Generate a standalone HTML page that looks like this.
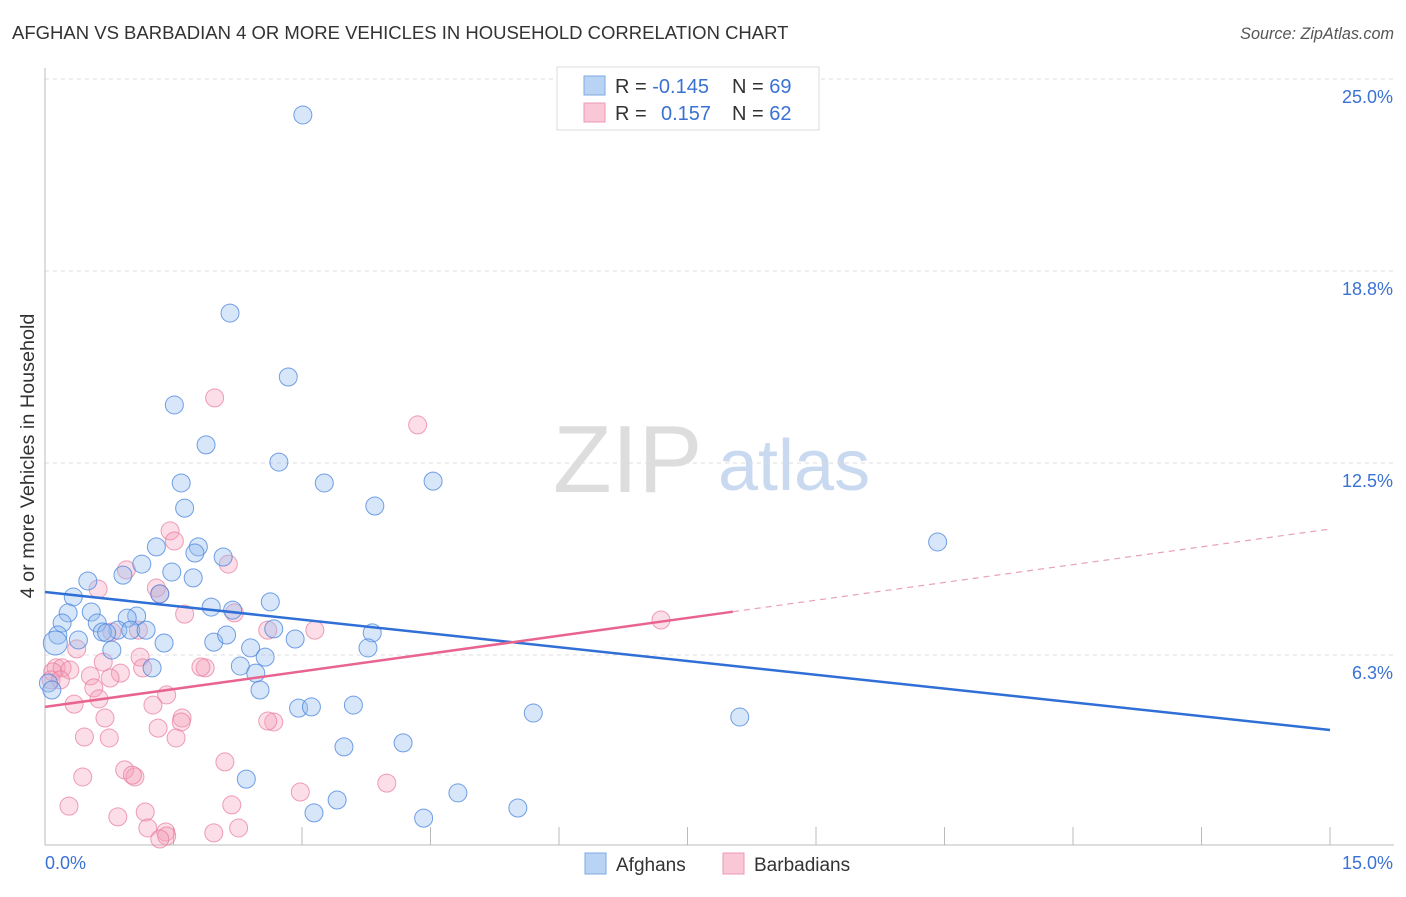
<!DOCTYPE html>
<html><head><meta charset="utf-8"><style>
body{margin:0;background:#fff;font-family:"Liberation Sans",sans-serif;}
svg text{font-family:"Liberation Sans",sans-serif;}
</style></head><body>
<svg id="c" width="1406" height="892" xmlns="http://www.w3.org/2000/svg">
<text x="12" y="39" font-size="18.5" fill="#333">AFGHAN VS BARBADIAN 4 OR MORE VEHICLES IN HOUSEHOLD CORRELATION CHART</text>
<text x="1394" y="39" font-size="16.2" fill="#555" font-style="italic" text-anchor="end">Source: ZipAtlas.com</text>
<text x="34" y="456" font-size="19.8" fill="#333" text-anchor="middle" transform="rotate(-90 34 456)">4 or more Vehicles in Household</text>
<g><text x="553" y="492" font-size="96" fill="#ddd" font-family="Liberation Serif,serif">ZIP</text><text x="718" y="490" font-size="72" fill="#c8d9f0">atlas</text></g>
<g id="grid"></g><g id="axes"></g><g id="pts"></g><g id="lines"></g>
<g>
<rect x="557" y="67" width="262" height="63" fill="#fff" stroke="#ddd"/>
<rect x="584" y="76" width="21" height="19" fill="#b9d3f5" stroke="#7fa8e0"/>
<rect x="584" y="103" width="21" height="19" fill="#f9c7d6" stroke="#ec9ab5"/>
<text x="615" y="93" font-size="20" fill="#333">R = <tspan fill="#3a72d4">-0.145</tspan></text>
<text x="732" y="93" font-size="20" fill="#333">N = <tspan fill="#3a72d4">69</tspan></text>
<text x="615" y="120" font-size="20" fill="#333">R = <tspan fill="#3a72d4" x="661">0.157</tspan></text>
<text x="732" y="120" font-size="20" fill="#333">N = <tspan fill="#3a72d4">62</tspan></text>
</g>
<g>
<rect x="585" y="853" width="21" height="21" fill="#b9d3f5" stroke="#7fa8e0"/>
<text x="616" y="871" font-size="19" fill="#333">Afghans</text>
<rect x="723" y="853" width="21" height="21" fill="#f9c7d6" stroke="#ec9ab5"/>
<text x="754" y="871" font-size="19" fill="#333">Barbadians</text>
</g>
</svg>
<script>
const yTicks=[6.25,12.5,18.75,25];
const yTickLabels=["6.3%","12.5%","18.8%","25.0%"];
const xTicks=[1.5,3,4.5,6,7.5,9,10.5,12,13.5,15];
const afghanX=[3.01,2.16,2.84,1.51,1.88,2.73,1.59,3.26,4.53,1.63,3.85,10.42,1.30,1.79,2.08,1.75,1.13,1.48,0.91,1.73,0.50,1.34,0.33,2.63,1.94,2.19,0.27,0.54,1.07,0.96,0.20,0.61,0.85,0.67,1.00,1.18,2.67,0.72,3.82,0.15,0.39,0.12,1.39,1.97,2.92,2.12,0.78,2.40,3.77,2.57,1.25,2.28,2.46,0.04,0.08,2.51,2.96,3.11,3.60,5.70,8.11,3.49,4.18,2.35,4.82,3.41,5.52,3.14,4.42];
const afghanY=[23.83,17.38,15.30,14.39,13.09,12.53,11.85,11.85,11.91,11.03,11.10,9.93,9.77,9.77,9.44,9.57,9.21,8.95,8.85,8.76,8.66,8.24,8.14,7.98,7.81,7.71,7.62,7.65,7.52,7.45,7.29,7.29,7.06,7.00,7.06,7.06,7.10,6.97,6.97,6.90,6.74,6.64,6.64,6.67,6.77,6.90,6.41,6.48,6.48,6.18,5.83,5.89,5.66,5.34,5.11,5.11,4.52,4.56,4.62,4.36,4.23,3.26,3.39,2.21,1.76,1.53,1.27,1.11,0.94];
const barbX=[1.98,4.35,1.46,1.51,2.14,0.95,0.62,1.30,1.34,1.63,2.21,7.19,3.15,2.60,1.09,0.78,0.37,1.11,0.68,0.13,0.20,1.87,1.82,1.14,0.09,0.29,0.88,0.53,0.76,0.07,0.18,0.57,1.42,0.63,0.34,1.26,1.60,1.59,0.70,1.32,2.67,2.60,1.53,0.46,0.75,2.10,0.93,0.44,1.05,1.02,3.99,2.98,2.18,0.28,1.17,0.85,1.20,2.26,1.97,1.41,1.42,1.34];
const barbY=[14.62,13.74,10.29,9.96,9.21,9.02,8.40,8.43,8.24,7.58,7.62,7.39,7.06,7.06,7.06,7.00,6.45,6.18,6.02,5.83,5.83,5.83,5.86,5.83,5.70,5.76,5.66,5.57,5.50,5.44,5.44,5.18,4.95,4.82,4.65,4.62,4.20,4.07,4.20,3.87,4.07,4.10,3.55,3.58,3.55,2.77,2.51,2.28,2.28,2.34,2.08,1.79,1.37,1.33,1.14,0.98,0.62,0.62,0.46,0.49,0.36,0.26];
const afghanTrend=[8.30,3.81];
const barbTrend=[4.56,10.35];
const barbSolidEnd=8.03;
const NS="http://www.w3.org/2000/svg";
const X=v=>45+v/15*1285, Y=v=>847-v/6.25*192;
function mk(tag,at,p){const e=document.createElementNS(NS,tag);for(const k in at)e.setAttribute(k,at[k]);document.getElementById(p).appendChild(e);return e;}
yTicks.forEach((t,i)=>{
 const l=mk('line',{x1:45,x2:1394,y1:Y(t),y2:Y(t),stroke:'#ddd','stroke-dasharray':'4,4'},'grid');
 
 
 const tx=mk('text',{x:1393,y:Y(t)+24,'font-size':18,fill:'#3a72d4','text-anchor':'end'},'grid');
 tx.textContent=yTickLabels[i];
 
 
});
const ya=mk('line',{x1:45,x2:45,y1:68,y2:845,stroke:'#bbb'},'axes');


const xa=mk('line',{x1:45,x2:1394,y1:845,y2:845,stroke:'#bbb'},'axes');


xTicks.forEach(t=>{const l=mk('line',{x1:X(t),x2:X(t),y1:827,y2:845,stroke:'#bbb'},'axes');
 
 });
let t0=mk('text',{x:45,y:869,'font-size':18,fill:'#3a72d4'},'axes');t0.textContent='0.0%';


let t1=mk('text',{x:1393,y:869,'font-size':18,fill:'#3a72d4','text-anchor':'end'},'axes');t1.textContent='15.0%';


barbX.forEach((x,i)=>{const c=mk('circle',{cx:X(x),cy:Y(barbY[i]),r:9,fill:'rgba(244,160,186,0.35)',stroke:'rgba(232,120,155,0.7)','stroke-width':1},'pts');
 
 });
afghanX.forEach((x,i)=>{const c=mk('circle',{cx:X(x),cy:Y(afghanY[i]),r:(i==41?12:9),fill:'rgba(150,190,240,0.38)',stroke:'rgba(70,130,220,0.75)','stroke-width':1},'pts');
 
 });
const bl=mk('line',{x1:X(0),y1:Y(afghanTrend[0]),x2:X(15),y2:Y(afghanTrend[1]),stroke:'#2f6fd6','stroke-width':2.5},'lines');


const py=x=>barbTrend[0]+(barbTrend[1]-barbTrend[0])*x/15;
const pl=mk('line',{x1:X(0),y1:Y(py(0)),x2:X(barbSolidEnd),y2:Y(py(barbSolidEnd)),stroke:'#e8648f','stroke-width':2.5},'lines');


const pd=mk('line',{x1:X(barbSolidEnd),y1:Y(py(barbSolidEnd)),x2:X(15),y2:Y(py(15)),stroke:'#e8a0b8','stroke-width':1.2,'stroke-dasharray':'6,5'},'lines');


</script>
</body></html>
